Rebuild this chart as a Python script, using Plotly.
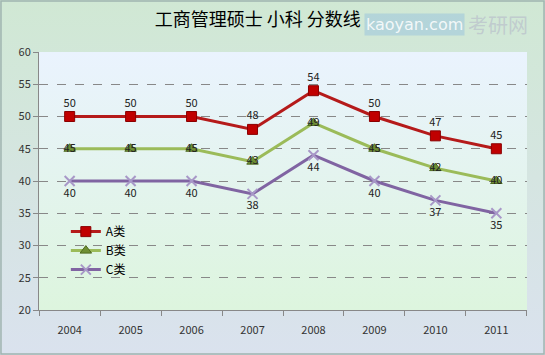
import plotly.graph_objects as go
import urllib.parse

years = ["2004", "2005", "2006", "2007", "2008", "2009", "2010", "2011"]
a_vals = [50, 50, 50, 48, 54, 50, 47, 45]
b_vals = [45, 45, 45, 43, 49, 45, 42, 40]
c_vals = [40, 40, 40, 38, 44, 40, 37, 35]
y_ticks = [20, 25, 30, 35, 40, 45, 50, 55, 60]

font_family = "Noto Sans CJK SC, DejaVu Sans, sans-serif"

W, H = 545, 355
ML, MR, MT, MB = 39, 18, 52, 45
PW, PH = W - ML - MR, H - MT - MB


def grad_uri(top, bottom):
    svg = ("<svg xmlns='http://www.w3.org/2000/svg' width='100' height='100' preserveAspectRatio='none'>"
           "<defs><linearGradient id='g' x1='0' y1='0' x2='0' y2='1'>"
           f"<stop offset='0' stop-color='{top}'/><stop offset='1' stop-color='{bottom}'/>"
           "</linearGradient></defs><rect width='100' height='100' fill='url(#g)'/></svg>")
    return "data:image/svg+xml;charset=utf-8," + urllib.parse.quote(svg)


fig = go.Figure()
fig.add_trace(go.Scatter(
    x=years, y=a_vals, name="A类", mode="lines+markers+text",
    line=dict(color="#b51a1a", width=3),
    marker=dict(symbol="square", size=10, color="#c00000", line=dict(color="#8a0000", width=1)),
    text=[str(v) for v in a_vals], textposition="top center",
    textfont=dict(size=11, color="#222222"),
))
fig.add_trace(go.Scatter(
    x=years, y=b_vals, name="B类", mode="lines+markers+text",
    line=dict(color="#9bbb59", width=3),
    marker=dict(symbol="triangle-up", size=10, color="#6f8f35", line=dict(color="#4f6a20", width=1)),
    text=[str(v) for v in b_vals], textposition="middle center",
    textfont=dict(size=11, color="#222222"),
))
fig.add_trace(go.Scatter(
    x=years, y=c_vals, name="C类", mode="lines+markers+text",
    line=dict(color="#8064a2", width=3),
    marker=dict(symbol="x-thin", size=10, color="#a898c8", line=dict(color="#a898c8", width=2)),
    text=[str(v) for v in c_vals], textposition="bottom center",
    textfont=dict(size=11, color="#222222"),
))

fig.update_layout(
    width=W, height=H,
    margin=dict(l=ML, r=MR, t=MT, b=MB),
    paper_bgcolor="#d5e6de",
    plot_bgcolor="rgba(0,0,0,0)",
    font=dict(family=font_family, size=11, color="#333333"),
    title=dict(text="工商管理硕士 小科 分数线", x=0.473, xanchor="center", y=0.945, yanchor="middle",
               font=dict(size=18, color="#000000", family=font_family)),
    showlegend=True,
    legend=dict(x=0.055, y=0.36, xanchor="left", yanchor="top", bgcolor="rgba(0,0,0,0)",
                font=dict(size=12, color="#000000"), tracegroupgap=0),
    images=[
        dict(source=grad_uri("#d0e8d4", "#dae2ee"), xref="paper", yref="paper",
             x=-ML / PW, y=1 + MT / PH, sizex=W / PW, sizey=H / PH,
             xanchor="left", yanchor="top", sizing="stretch", layer="below"),
        dict(source=grad_uri("#eaf3fe", "#ddf5de"), xref="paper", yref="paper",
             x=0, y=1, sizex=1, sizey=1, xanchor="left", yanchor="top",
             sizing="stretch", layer="below"),
    ],
    shapes=[
        dict(type="rect", xref="paper", yref="paper",
             x0=-ML / PW + 0.002, x1=1 + MR / PW - 0.002,
             y0=-MB / PH + 0.004, y1=1 + MT / PH - 0.004,
             line=dict(color="#9fb4b0", width=1.5), fillcolor="rgba(0,0,0,0)", layer="above"),
    ],
    annotations=[
        dict(text="kaoyan.com", x=0.77, y=1.105, xref="paper", yref="paper",
             xanchor="center", yanchor="middle", showarrow=False, bgcolor="rgba(160,200,220,0.6)",
             font=dict(size=16, color="rgba(255,255,255,0.85)", family="DejaVu Sans")),
        dict(text="考研网", x=0.94, y=1.105, xref="paper", yref="paper",
             xanchor="center", yanchor="middle", showarrow=False,
             font=dict(size=20, color="rgba(190,200,205,0.9)", family=font_family)),
    ],
)
fig.update_xaxes(
    type="category", showgrid=False, showline=True, linecolor="#888888", linewidth=1,
    ticks="outside", tickson="boundaries", ticklen=5, tickcolor="#888888",
    ticklabelstandoff=10,
    tickfont=dict(size=11, color="#333333"), fixedrange=True,
)
fig.update_yaxes(
    range=[20, 60], tickvals=y_ticks, showgrid=True, gridcolor="#888888", griddash="dash",
    gridwidth=1, showline=True, linecolor="#888888", ticks="outside", ticklen=5,
    tickcolor="#888888", tickfont=dict(size=11, color="#333333"), zeroline=False, fixedrange=True,
)

fig.write_html("out.html")
